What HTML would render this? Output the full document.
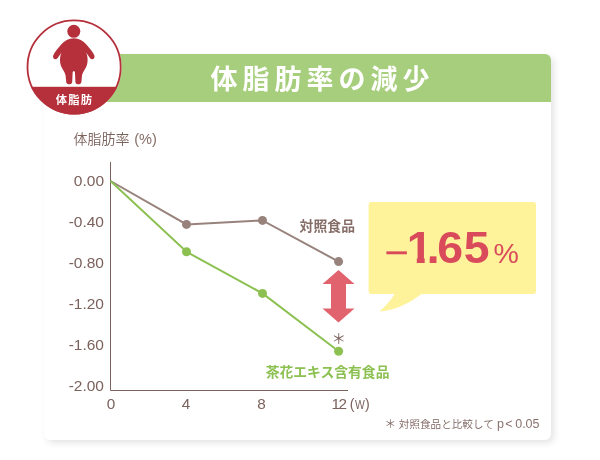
<!DOCTYPE html>
<html lang="ja">
<head>
<meta charset="utf-8">
<title>体脂肪率の減少</title>
<style>
html,body{margin:0;padding:0;background:#fff;}
body{width:600px;height:460px;overflow:hidden;position:relative;font-family:"Liberation Sans","Noto Sans CJK JP",sans-serif;}
#card{position:absolute;left:44px;top:54px;width:507px;height:385.5px;background:#fff;border-radius:6px;box-shadow:3px 3px 7px rgba(0,0,0,0.11);}
#head{position:absolute;left:44px;top:54px;width:507px;height:48px;background:#a7ce7c;border-radius:6px 6px 0 0;}
#title{position:absolute;left:210.5px;top:57px;height:48px;line-height:47px;color:#fff;font-size:27px;font-weight:700;letter-spacing:5px;white-space:nowrap;}
svg{position:absolute;left:0;top:0;}
.ax{font-family:"Liberation Sans","Noto Sans CJK JP",sans-serif;font-size:14px;fill:#7b625d;}
</style>
</head>
<body>
<div id="card"></div>
<div id="head"></div>
<div id="title">体脂肪率の減少</div>
<svg width="600" height="460" viewBox="0 0 600 460">
  <!-- badge -->
  <defs>
    <clipPath id="bc"><circle cx="74.1" cy="67" r="47.5"/></clipPath>
  </defs>
  <circle cx="74.1" cy="67" r="47.5" fill="#fff"/>
  <rect x="20" y="86.8" width="110" height="40" fill="#b5303b" clip-path="url(#bc)"/>
  <circle cx="74.1" cy="67" r="46.6" fill="none" stroke="#b5303b" stroke-width="1.8"/>
  <!-- person -->
  <g fill="#b5303b">
    <circle cx="73.8" cy="31.3" r="6.5"/>
    <path d="M73.8 38.3 C79 38.3 83.2 40.6 86.4 44.6 C89.8 48.8 93.1 52.2 94.4 55.5 C95.4 58.5 92.1 60.5 90.1 58.2 L86.1 52.5 C88.1 57 88.1 63 86.1 67 C84.6 70 82.6 72.5 82 75.5 L81.4 81.9 C81.1 85 75.6 85 75.4 81.9 L75 73 C74.9 70.3 72.7 70.3 72.6 73 L72.2 81.9 C72 85 66.5 85 66.2 81.9 L65.6 75.5 C65 72.5 63 70 61.5 67 C59.5 63 59.5 57 61.5 52.5 L57.5 58.2 C55.5 60.5 52.2 58.5 53.2 55.5 C54.5 52.2 57.8 48.8 61.2 44.6 C64.4 40.6 68.6 38.3 73.8 38.3 Z"/>
  </g>
  <text x="74.6" y="103.7" text-anchor="middle" font-size="11.3" font-weight="700" fill="#fff" letter-spacing="1.2" style="font-family:'Liberation Sans','Noto Sans CJK JP',sans-serif">体脂肪</text>

  <!-- axis title -->
  <text class="ax" x="73.4" y="143.6" style="font-size:14px;font-weight:350">体脂肪率 <tspan x="134.2" style="font-size:14.6px;font-weight:400;fill:#866e68">(%)</tspan></text>

  <!-- axes -->
  <path d="M110.5 162 V390.5 H348" fill="none" stroke="#7b625d" stroke-width="1"/>

  <!-- y labels -->
  <g class="ax" text-anchor="end" style="font-size:15.5px">
    <text x="104" y="185.7">0.00</text>
    <text x="104" y="226.7">-0.40</text>
    <text x="104" y="267.7">-0.80</text>
    <text x="104" y="308.7">-1.20</text>
    <text x="104" y="349.7">-1.60</text>
    <text x="104" y="390.7">-2.00</text>
  </g>
  <!-- x labels -->
  <g class="ax" text-anchor="middle" style="font-size:15.3px">
    <text x="111" y="409.4">0</text>
    <text x="186" y="409.4">4</text>
    <text x="261.5" y="409.4">8</text>
    <text x="338.4" y="409.4" letter-spacing="-1.6">12</text>
  </g>
  <text class="ax" y="409.1" style="font-size:14.2px"><tspan x="349.7">(</tspan><tspan x="354.9" y="408.7" style="font-size:12.4px" textLength="9.8" lengthAdjust="spacingAndGlyphs">W</tspan><tspan x="364.9" y="409.1">)</tspan></text>

  <!-- control line -->
  <polyline points="110.5,181 186.5,224.4 262.5,220.4 338.6,261.6" fill="none" stroke="#98827c" stroke-width="2"/>
  <g fill="#98827c">
    <circle cx="186.5" cy="224.4" r="4.5"/><circle cx="262.5" cy="220.4" r="4.5"/><circle cx="338.6" cy="261.6" r="4.5"/>
  </g>
  <!-- test line -->
  <polyline points="110.5,181 186.5,251.8 262.5,293.4 338.6,351.2" fill="none" stroke="#8cc152" stroke-width="2"/>
  <g fill="#8cc152">
    <circle cx="186.5" cy="251.8" r="4.5"/><circle cx="262.5" cy="293.4" r="4.5"/><circle cx="338.6" cy="351.2" r="4.5"/>
  </g>

  <!-- labels -->
  <text x="299.6" y="231" font-size="13.85" font-weight="700" fill="#866e68" style="font-family:'Liberation Sans','Noto Sans CJK JP',sans-serif">対照食品</text>
  <text x="265.7" y="377" font-size="13.8" font-weight="700" fill="#8cc152" style="font-family:'Liberation Sans','Noto Sans CJK JP',sans-serif">茶花エキス含有食品</text>

  <!-- arrow -->
  <path d="M338.5 270 L354.5 284 H346 V308.5 H354.5 L338.5 322.5 L322.5 308.5 H331 V284 H322.5 Z" fill="#e0636e"/>
  <!-- asterisk -->
  <text x="338.7" y="343.6" text-anchor="middle" font-size="14.5" font-weight="400" fill="#7b625d" style="font-family:'Noto Sans CJK JP',sans-serif">＊</text>

  <!-- callout -->
  <path d="M371.6 202 H533 Q536 202 536 205 V291 Q536 294 533 294 H421.7 C409 303.3 396 310.3 379.3 311.6 C386.5 305.5 391.5 299.5 394.5 294 H371.6 Q368.6 294 368.6 291 V205 Q368.6 202 371.6 202 Z" fill="#fef29b"/>
  <clipPath id="c1">
    <rect x="380" y="215" width="160" height="42.6"/>
    <rect x="416.8" y="257.6" width="7.9" height="10"/>
    <rect x="429.7" y="257.6" width="110" height="10"/>
    <rect x="380" y="257.6" width="27" height="10"/>
  </clipPath>
  <g clip-path="url(#c1)"><g transform="scale(1.055,1)" fill="#d94a5a" style="font-family:'Liberation Sans',sans-serif">
    <text y="262.8" font-size="44" font-weight="700"><tspan x="366.6" y="260.9" font-size="34" font-weight="400" stroke="#d94a5a" stroke-width="0.5">–</tspan><tspan x="385.5 404.4 414.5 439.5" y="262.8">1.65</tspan></text>
  </g></g>
  <text x="493.6" y="262.8" font-size="28.5" fill="#d94a5a" style="font-family:'Liberation Sans',sans-serif">%</text>

  <!-- footnote -->
  <text x="384.5" y="427.5" font-size="10.6" font-weight="350" fill="#7b625d" style="font-family:'Liberation Sans','Noto Sans CJK JP',sans-serif"><tspan font-size="11.6" y="428.2">＊</tspan> <tspan x="398.8" y="427.5">対照食品と比較して</tspan> <tspan x="497" y="427.8" font-size="12.5" font-weight="400" fill="#8a736e">p</tspan><tspan x="505.2" font-size="12.5" font-weight="400" fill="#8a736e">&lt;</tspan> <tspan x="515.2" font-size="12.5" font-weight="400" fill="#8a736e">0.05</tspan></text>
</svg>
</body>
</html>
